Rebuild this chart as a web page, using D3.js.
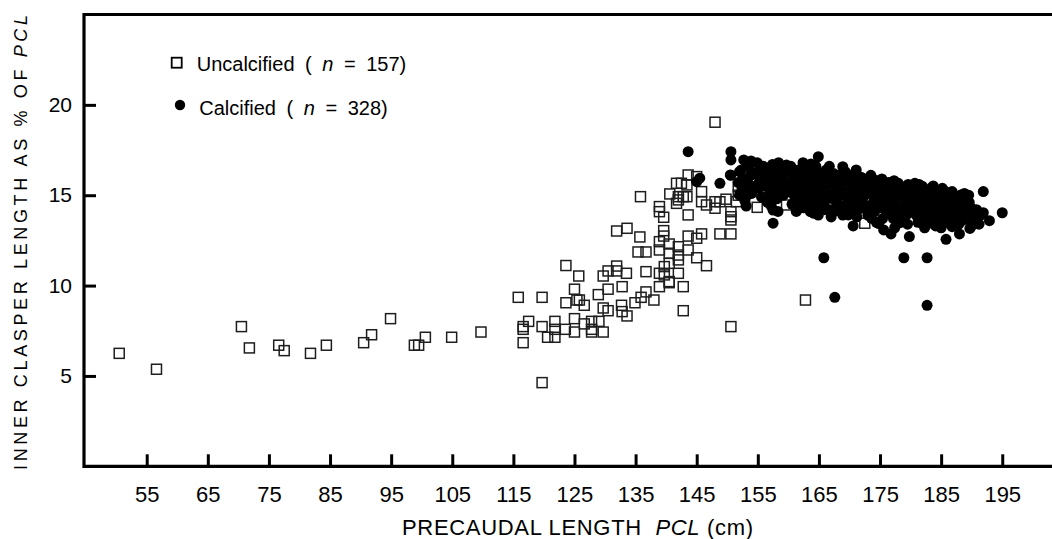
<!DOCTYPE html>
<html><head><meta charset="utf-8">
<script src="https://cdn.jsdelivr.net/npm/d3@7"></script>
<style>
body{margin:0;background:#fff}
svg{display:block}
text{font-family:"Liberation Sans",Arial,Helvetica,sans-serif;fill:#000}
</style>
</head><body>
<svg id="chart" width="1052" height="539"></svg>
<script>
// ---------- data ----------
const xTicks = [55,65,75,85,95,105,115,125,135,145,155,165,175,185,195];
const yTicks = [5,10,15,20];

const uncalcified = [
[50.5,6.25],[56.6,5.37],[70.5,7.73],[71.8,6.55],[76.6,6.70],[77.5,6.40],[81.8,6.25],[84.4,6.70],[90.5,6.84],[91.8,7.28],[94.9,8.17],[98.8,6.70],[99.5,6.70],[100.6,7.14],[104.9,7.14],[109.7,7.43],
[115.8,9.35],[119.7,9.35],[116.6,7.73],[116.6,7.58],[117.5,8.02],[116.6,6.84],[119.7,7.73],[119.7,4.63],[120.6,7.14],[121.8,8.02],[121.8,7.58],[121.8,7.14],[123.5,7.58],[123.6,9.05],[123.6,11.11],[125.0,9.80],[125.0,8.17],[125.0,7.43],[125.4,9.20],[125.8,9.20],[125.7,10.53],[126.6,8.91],[126.6,7.88],[127.8,8.02],[127.8,7.58],[127.8,7.43],[128.9,9.50],[129.0,8.02],[129.7,7.43],[129.7,8.76],[130.5,8.61],[130.5,9.80],[129.7,10.53],[130.5,10.81],[131.9,11.08],[131.9,10.81],[133.5,10.68],[132.8,9.94],[132.7,8.91],[132.8,8.56],[133.6,8.32],[134.9,9.05],[135.9,9.35],[136.7,9.65],[138.0,9.20],[138.9,9.94],[140.5,10.16],[142.8,9.94],[142.8,8.61],[150.6,7.73],[162.8,9.20],
[135.4,11.86],[135.7,12.69],[131.9,13.02],[133.6,13.17],[136.7,11.86],[135.8,14.92],[138.9,14.37],[138.9,14.09],[139.6,13.78],[139.6,13.04],[139.6,12.74],[138.9,12.43],[140.5,12.30],[142.0,12.15],[143.6,12.74],[145.0,12.62],[145.8,12.86],[140.5,11.79],[142.0,11.69],[143.6,11.97],[138.9,11.97],[140.5,11.23],[139.7,11.05],[138.9,10.68],[139.7,10.59],[142.0,11.42],[142.0,10.68],[140.5,10.22],[145.0,11.54],[146.6,11.10],[136.7,10.77],[143.6,13.91],[143.6,16.12],[141.7,15.66],[142.5,15.66],[145.0,16.03],[140.6,15.07],[142.0,14.92],[142.0,14.74],[141.7,14.55],[142.8,14.92],[143.4,15.57],[143.4,14.92],[145.8,15.20],[145.8,14.64],[146.6,14.46],[148.0,14.64],[148.8,14.64],[148.0,14.28],[149.8,14.78],[150.6,14.09],[150.6,13.81],[150.6,13.63],[151.5,14.64],[151.8,15.47],[148.8,12.86],[150.6,12.86],[148.0,19.04],[154.9,14.33],[159.7,14.46],[172.5,13.45],[166.3,16.0],[175.8,15.66],[153.5,16.4],[151.8,15.0]
];

const calcified = [
// outer / isolated
[143.6,17.41],[150.6,17.41],[150.6,16.95],[152.7,16.95],[148.8,15.66],[145.5,15.94],[145.0,15.75],[150.5,16.12],[157.5,14.18],[157.5,13.45],[156.7,14.64],[164.9,17.13],[163.7,16.73],[168.9,16.58],[165.8,11.54],[167.6,9.35],[182.7,8.91],[178.9,11.54],[182.7,11.54],[191.9,15.20],[195.0,14.03],[185.8,12.56],[179.8,12.71],[188.0,12.86],[189.7,13.16],[170.6,13.30],[176.8,12.86],[175.6,13.08],[190.6,13.91],[192.9,13.59],[191.9,14.03],[189.0,14.00],[188.2,15.01],[186.8,15.20],[185.2,15.38],[183.7,15.51],[180.7,15.66],[178.0,15.66],[173.6,15.84],[169.8,13.91],[163.6,14.09],[164.2,14.00],[159.7,16.67],[161.7,16.40],[173.6,13.72],[178.0,13.45],[181.8,13.45],[183.5,13.45],[186.8,13.26],[174.8,13.43],
[150.6,16.1],[151.8,15.7],[152.0,16.3],[152.9,15.66],[152.9,15.1],[152.9,14.7],
// 152-160
[152.3,16.4],[152.6,15.9],[152.4,15.3],[152.8,14.8],[153.1,14.4],[153.5,16.6],[153.8,16.1],[153.6,15.6],[154.0,15.1],[154.9,16.8],[155.0,16.3],[155.3,15.8],[155.1,15.4],[155.6,14.9],[155.4,16.0],[153.0,15.7],[154.6,15.5],
[156.2,16.5],[156.5,16.0],[156.3,15.5],[156.8,15.0],[156.6,14.6],[157.4,16.7],[157.7,16.2],[157.5,15.7],[157.9,15.2],[158.1,14.8],[158.6,16.5],[158.9,16.0],[158.7,15.4],[159.2,15.0],[159.6,16.3],[159.8,15.7],[160.0,15.2],[157.2,14.4],[158.3,14.1],
[152.0,15.0],[153.3,15.0],[154.5,16.2],[155.8,15.5],[155.9,16.6],[156.9,16.3],[157.0,15.3],[158.2,15.8],[158.4,16.8],[159.3,15.5],[159.4,16.6],[153.9,16.9],
// 160-164
[160.4,16.6],[160.7,16.1],[160.5,15.6],[160.9,15.0],[161.1,14.5],[161.3,14.1],[161.8,16.3],[162.0,15.8],[161.7,15.3],[162.2,14.8],[162.5,14.3],[162.9,16.5],[163.1,16.0],[163.3,15.5],[163.0,15.0],[163.6,14.6],[164.0,16.2],[164.1,15.2],[163.8,14.2],[162.4,16.8],
[160.2,15.3],[160.6,14.5],[161.0,16.4],[161.4,15.8],[161.9,14.6],[162.3,15.4],[162.7,16.1],[162.9,14.6],[163.5,16.4],[163.9,15.7],[163.4,14.3],
// 164-168
[164.5,16.6],[164.7,15.7],[164.4,14.8],[165.0,14.3],[165.3,16.1],[165.6,15.4],[165.2,15.0],[165.9,14.6],[166.2,16.4],[166.5,15.9],[166.3,15.1],[166.8,14.2],[167.1,15.6],[167.4,16.2],[167.3,14.8],[167.8,15.3],[167.9,14.4],[164.9,13.9],[167.0,13.8],
[164.3,15.4],[164.8,16.3],[165.5,15.8],[165.7,14.9],[166.0,14.2],[166.7,16.6],[166.9,15.0],[167.6,15.9],[167.5,14.1],
// 168-172
[168.3,16.1],[168.5,15.5],[168.2,14.9],[168.7,14.4],[168.9,13.9],[169.3,16.3],[169.6,15.8],[169.4,15.2],[169.8,14.7],[170.0,14.2],[170.4,16.0],[170.7,15.5],[170.5,15.0],[170.9,14.5],[171.2,13.8],[171.5,15.9],[171.8,15.3],[171.6,14.8],[172.0,14.3],[171.1,16.4],
[168.1,15.8],[168.8,15.1],[169.1,14.3],[169.9,16.1],[170.2,15.3],[170.4,14.6],[171.0,15.1],[171.4,14.2],[171.9,16.0],
// 172-176
[172.4,15.9],[172.6,15.4],[172.3,14.9],[172.8,14.4],[173.0,13.9],[173.5,16.1],[173.7,15.6],[173.4,15.1],[173.9,14.6],[174.1,14.1],[174.6,15.8],[174.9,15.3],[174.7,14.8],[175.1,14.3],[175.4,13.7],[175.7,15.6],[176.0,15.0],[175.8,14.6],[176.1,14.0],[174.4,13.5],
[172.1,15.6],[172.9,15.1],[173.2,14.3],[173.8,15.9],[174.3,15.1],[174.5,14.4],[175.3,15.9],[175.5,15.0],[175.9,14.2],
// 176-180
[176.5,15.7],[176.8,15.2],[176.6,14.7],[177.0,14.2],[177.2,13.7],[177.6,15.5],[177.9,15.0],[177.7,14.5],[178.1,14.0],[178.4,13.5],[178.7,15.4],[179.0,14.9],[178.8,14.4],[179.3,13.9],[179.6,15.6],[179.9,15.1],[179.7,14.6],[180.0,14.1],[179.5,13.4],[177.4,13.2],
[176.3,15.4],[176.9,14.4],[177.3,15.8],[177.5,14.8],[178.3,15.2],[178.5,14.2],[179.2,15.1],[179.4,14.2],[180.2,14.7],[178.9,13.7],
// 180-184
[180.4,15.4],[180.7,14.9],[180.5,14.4],[180.9,13.9],[181.2,13.5],[181.6,15.3],[181.9,14.8],[181.7,14.3],[182.1,13.8],[182.6,15.2],[182.9,14.7],[182.7,14.2],[183.1,13.7],[183.4,15.4],[183.7,14.9],[183.5,14.4],[183.9,13.9],[184.1,13.3],[181.4,15.6],[182.3,13.2],
[180.2,15.1],[180.8,14.2],[181.3,14.6],[181.9,15.5],[182.4,14.5],[182.2,13.5],[183.0,15.0],[183.2,14.0],[184.0,14.7],[183.8,15.2],
// 184-188
[184.4,15.1],[184.7,14.6],[184.5,14.1],[184.9,13.6],[185.3,15.0],[185.6,14.5],[185.4,14.0],[185.8,13.5],[186.2,14.9],[186.5,14.4],[186.3,13.9],[186.7,13.4],[187.1,14.7],[187.4,14.2],[187.2,13.7],[187.7,14.9],[187.9,13.4],[185.0,13.2],
[184.2,14.4],[184.8,13.9],[185.2,14.7],[185.7,15.2],[186.0,14.2],[186.9,14.0],[186.4,13.6],[187.5,14.5],[187.0,15.0],
// 188-193
[188.3,14.5],[188.6,14.0],[188.4,13.6],[189.1,14.4],[189.4,13.8],[189.9,14.3],[190.2,13.6],[190.8,14.2],[191.5,13.9],[191.2,13.4],[189.5,15.0],[188.8,15.1],
[188.1,14.2],[188.9,13.7],[189.6,14.6],[190.4,14.0],[190.0,13.3],[191.0,13.8],[189.2,14.9]
];

const legendItems = [
  {symbol:"square", pre:"Uncalcified ( ", n:"n", post:" = 157)"},
  {symbol:"circle", pre:"Calcified ( ", n:"n", post:" = 328)"}
];

// ---------- layout ----------
const svg = d3.select("#chart");
const plotL = 84, plotR = 1052, plotT = 14.5, plotB = 466.3;
const x = d3.scaleLinear().domain([45,200]).range([85.6, 85.6 + 155*6.111]);
const y = d3.scaleLinear().domain([0,25]).range([plotB, plotT]);

// points
svg.append("g").selectAll("rect").data(uncalcified).join("rect")
  .attr("x", d => x(d[0]) - 5).attr("y", d => y(d[1]) - 5)
  .attr("width", 10).attr("height", 10)
  .attr("fill", "none").attr("stroke", "#1e1e1e").attr("stroke-width", 1.5);

svg.append("g").selectAll("circle").data(calcified).join("circle")
  .attr("cx", d => x(d[0])).attr("cy", d => y(d[1])).attr("r", 5.5)
  .attr("fill", "#000");

// axes
const xAxis = d3.axisBottom(x).tickValues(xTicks).tickSizeInner(-12).tickSizeOuter(0).tickPadding(20);
const gx = svg.append("g").attr("transform", `translate(0,${plotB})`).call(xAxis);
gx.select(".domain").remove();
gx.selectAll(".tick line").attr("stroke", "#000").attr("stroke-width", 3);
gx.selectAll(".tick text").attr("font-size", 22).attr("font-family", "Liberation Sans, Arial, sans-serif");

const yAxis = d3.axisLeft(y).tickValues(yTicks).tickSizeInner(-12).tickSizeOuter(0).tickPadding(12);
const gy = svg.append("g").attr("transform", `translate(${plotL},0)`).call(yAxis);
gy.select(".domain").remove();
gy.selectAll(".tick line").attr("stroke", "#000").attr("stroke-width", 3);
gy.selectAll(".tick text").attr("font-size", 21).attr("font-family", "Liberation Sans, Arial, sans-serif");

// frame (left, bottom, top)
const frame = svg.append("g").attr("stroke", "#000").attr("stroke-width", 3.2).attr("fill", "none");
frame.append("line").attr("x1", plotL).attr("x2", plotL).attr("y1", plotT - 1.6).attr("y2", plotB + 1.6);
frame.append("line").attr("x1", plotL).attr("x2", plotR).attr("y1", plotB).attr("y2", plotB);
frame.append("line").attr("x1", plotL).attr("x2", plotR).attr("y1", plotT).attr("y2", plotT);

// axis titles
const xt = svg.append("text").attr("x", 402).attr("y", 535).attr("font-size", 22)
  .attr("textLength", 351).attr("lengthAdjust", "spacing");
xt.append("tspan").text("PRECAUDAL LENGTH\u00a0\u00a0");
xt.append("tspan").attr("font-style", "italic").text("PCL");
xt.append("tspan").text("\u00a0(cm)");

const yt = svg.append("text").attr("transform", "translate(26.5,242.5) rotate(-90)")
  .attr("text-anchor", "middle").attr("font-size", 18)
  .attr("textLength", 455).attr("lengthAdjust", "spacing");
yt.append("tspan").text("INNER CLASPER LENGTH AS % OF ");
yt.append("tspan").attr("font-style", "italic").text("PCL");

// legend
const legPos = [{sx:176.7, sy:62.7, tx:196.7, ty:70.7}, {sx:180, sy:105, tx:199.3, ty:115}];
legendItems.forEach((it, i) => {
  const p = legPos[i];
  if (it.symbol === "square") {
    svg.append("rect").attr("x", p.sx - 5).attr("y", p.sy - 5).attr("width", 10).attr("height", 10)
      .attr("fill", "none").attr("stroke", "#000").attr("stroke-width", 1.8);
  } else {
    svg.append("circle").attr("cx", p.sx).attr("cy", p.sy).attr("r", 5.2).attr("fill", "#000");
  }
  const t = svg.append("text").attr("x", p.tx).attr("y", p.ty).attr("font-size", 20)
    .style("word-spacing", "5px");
  t.append("tspan").text(it.pre);
  t.append("tspan").attr("font-style", "italic").text(it.n);
  t.append("tspan").text(it.post);
});
</script>
</body></html>
